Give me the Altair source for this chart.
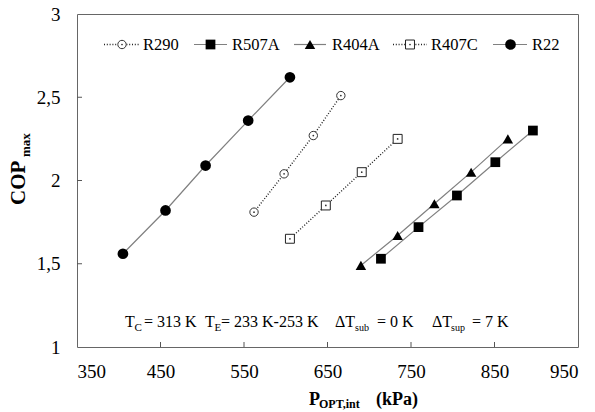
import altair as alt
import pandas as pd

# ---------------- data ----------------
series_names = ["R290", "R507A", "R404A", "R407C", "R22"]
p_r290 = [562, 598, 633, 666]
cop_r290 = [1.81, 2.04, 2.27, 2.51]
p_r507a = [714, 759, 805, 851, 896]
cop_r507a = [1.53, 1.72, 1.91, 2.11, 2.30]
p_r404a = [690, 734, 778, 822, 866]
cop_r404a = [1.49, 1.67, 1.86, 2.05, 2.25]
p_r407c = [605, 648, 691, 734]
cop_r407c = [1.65, 1.85, 2.05, 2.25]
p_r22 = [405, 456, 504, 555, 605]
cop_r22 = [1.56, 1.82, 2.09, 2.36, 2.62]
x_ticks = [350, 450, 550, 650, 750, 850, 950]
y_ticks = [1, 1.5, 2, 2.5, 3]

series_p = [p_r290, p_r507a, p_r404a, p_r407c, p_r22]
series_cop = [cop_r290, cop_r507a, cop_r404a, cop_r407c, cop_r22]
rows = []
for name, ps, cs in zip(series_names, series_p, series_cop):
    for p, c in zip(ps, cs):
        rows.append({"series": name, "p": p, "cop": c})
df = pd.DataFrame(rows)

W, H = 501, 333
FONT = "Liberation Serif"
DOT = "#222222"
SOLID = "#808080"

xs = alt.Scale(domain=[350, 950], nice=False, zero=False)
ys = alt.Scale(domain=[1, 3], nice=False, zero=False)
xenc = alt.X("p:Q", scale=xs, title=None,
             axis=alt.Axis(values=x_ticks, labelBaseline="alphabetic", labelPadding=30))
yenc = alt.Y("cop:Q", scale=ys, title=None,
             axis=alt.Axis(values=y_ticks, labelPadding=17,
                           labelExpr="replace(format(datum.value, '~g'), '.', ',')"))

base = alt.Chart(df).encode(x=xenc, y=yenc)


def sel(names):
    return alt.FieldOneOfPredicate(field="series", oneOf=names)


solid_lines = base.transform_filter(sel(["R507A", "R404A", "R22"])).mark_line(
    color=SOLID, strokeWidth=1.2).encode(detail="series:N")
dotted_lines = base.transform_filter(sel(["R290", "R407C"])).mark_line(
    color=DOT, strokeWidth=1.4, strokeDash=[1, 1.8]).encode(detail="series:N")

r22_pts = base.transform_filter(sel(["R22"])).mark_point(
    shape="circle", filled=True, color="black", size=115, opacity=1)
r507_pts = base.transform_filter(sel(["R507A"])).mark_point(
    shape="square", filled=True, color="black", size=95, opacity=1)
r404_pts = base.transform_filter(sel(["R404A"])).mark_point(
    shape="triangle-up", filled=True, color="black", size=110, opacity=1)
r290_pts = base.transform_filter(sel(["R290"])).mark_point(
    shape="circle", filled=True, fill="white", stroke="#333333", strokeWidth=1,
    size=70, opacity=1)
r407_pts = base.transform_filter(sel(["R407C"])).mark_point(
    shape="square", filled=True, fill="white", stroke="#222222", strokeWidth=1,
    size=80, opacity=1)
inner_dots = base.transform_filter(sel(["R290", "R407C"])).mark_point(
    shape="circle", filled=True, color="#333333", size=3, opacity=1)

# inward tick marks
xt = alt.Chart(pd.DataFrame({"p": x_ticks[1:-1]})).mark_rule(
    color="#555555", strokeWidth=1).encode(
    x=xenc, y=alt.value(H), y2=alt.value(H - 5))
yt = alt.Chart(pd.DataFrame({"cop": y_ticks[1:-1]})).mark_rule(
    color="#555555", strokeWidth=1).encode(
    y=yenc, x=alt.value(0), x2=alt.value(5))

one = pd.DataFrame({"t": ["x"]})


def txt(s, x, y, size, bold=False, angle=0):
    kw = dict(align="left", baseline="alphabetic", font=FONT, fontSize=size,
              color="black", fontWeight="bold" if bold else "normal")
    if angle:
        kw["angle"] = angle
    return alt.Chart(pd.DataFrame({"t": [s]})).mark_text(**kw).encode(
        x=alt.value(x), y=alt.value(y), text="t:N")


def lrule(x1, x2, y, dotted):
    if dotted:
        m = alt.Chart(one).mark_rule(color=DOT, strokeWidth=1.4, strokeDash=[1, 1.8])
    else:
        m = alt.Chart(one).mark_rule(color=SOLID, strokeWidth=1.2)
    return m.encode(x=alt.value(x1), x2=alt.value(x2), y=alt.value(y))


def lpoint(x, y, **kw):
    return alt.Chart(one).mark_point(opacity=1, **kw).encode(x=alt.value(x), y=alt.value(y))


LY = 30.5
legend_layers = [
    lrule(27, 63, LY, True),
    lpoint(45, LY, shape="circle", filled=True, fill="white", stroke="#333333", strokeWidth=1, size=70),
    lpoint(45, LY, shape="circle", filled=True, color="#333333", size=3),
    txt(series_names[0], 66, LY + 5.5, 16.5),
    lrule(117, 150, LY, False),
    lpoint(133.5, LY, shape="square", filled=True, color="black", size=95),
    txt(series_names[1], 155, LY + 5.5, 16.5),
    lrule(217, 249, LY, False),
    lpoint(233, LY, shape="triangle-up", filled=True, color="black", size=110),
    txt(series_names[2], 255, LY + 5.5, 16.5),
    lrule(316, 350, LY, True),
    lpoint(333, LY, shape="square", filled=True, fill="white", stroke="#222222", strokeWidth=1, size=80),
    lpoint(333, LY, shape="circle", filled=True, color="#333333", size=3),
    txt(series_names[3], 354, LY + 5.5, 16.5),
    lrule(416, 450, LY, False),
    lpoint(433.5, LY, shape="circle", filled=True, color="black", size=115),
    txt(series_names[4], 455, LY + 5.5, 16.5),
]

AY = 312.5
annot_layers = [
    txt("T", 48, AY, 16),
    txt("C", 57.5, AY + 4, 11),
    txt("= 313 K", 67, AY, 16),
    txt("T", 128, AY, 16),
    txt("E", 137.5, AY + 4, 11),
    txt("= 233 K-253 K", 144, AY, 16),
    txt("\u0394T", 258, AY, 16),
    txt("sub", 278, AY + 4, 10),
    txt("=  0 K", 300, AY, 16),
    txt("\u0394T", 355, AY, 16),
    txt("sup", 374, AY + 4, 10),
    txt("= 7 K", 395, AY, 16),
]

title_layers = [
    txt("P", 232, 391, 18, bold=True),
    txt("OPT,int", 242, 394, 12, bold=True),
    txt("(kPa)", 299, 391, 18, bold=True),
    txt("COP", -52, 191, 21, bold=True, angle=270),
    txt("max", -47, 143, 13, bold=True, angle=270),
]

chart = alt.layer(
    solid_lines, dotted_lines, xt, yt,
    r22_pts, r507_pts, r404_pts, r290_pts, r407_pts, inner_dots,
    *legend_layers, *annot_layers, *title_layers,
).properties(
    width=W, height=H, autosize="none",
    padding={"left": 77, "top": 14, "right": 17, "bottom": 65},
).configure_view(
    stroke="#666666", strokeWidth=1
).configure_axis(
    grid=False, domain=False, ticks=False,
    labelFont=FONT, labelFontSize=19, labelColor="black",
)

chart.save("out.html", embed_options={"renderer": "svg", "actions": False})
